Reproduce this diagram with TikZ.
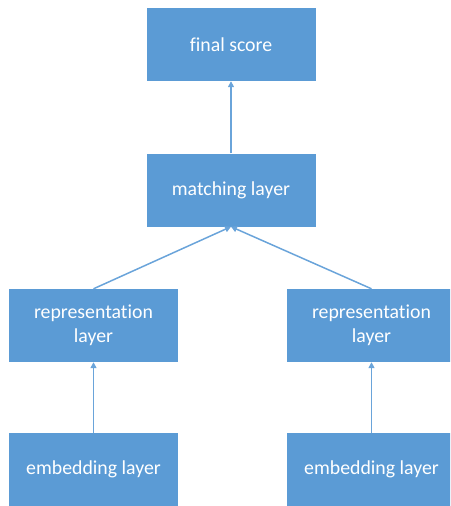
\documentclass[tikz,border=0pt]{standalone}
\usepackage{fontspec}
\setmainfont{Carlito}[Ligatures={NoCommon}]
\usetikzlibrary{arrows.meta}
\definecolor{boxblue}{HTML}{5B9BD5}
\definecolor{linkblue}{HTML}{6AA4DA}
\begin{document}
\begin{tikzpicture}[x=1pt,y=-1pt,
  layerbox/.style={fill=boxblue, draw=none, minimum width=169pt, minimum height=73pt,
    inner sep=0pt, text=white, align=center, font=\fontsize{19.8}{24}\selectfont},
  link/.style={draw=linkblue, line width=1.5pt, -{Triangle[length=6pt,width=6pt]}}]
\useasboundingbox (0,0) rectangle (450,506);
\clip (0,0) rectangle (450,506);
\node[layerbox] (final) at (231,44.5) {final score};
\node[layerbox] (match) at (231,190) {matching layer};
\node[layerbox] (repL) at (93.5,325.5) {representation\\layer};
\node[layerbox] (repR) at (371.5,325.5) {representation\\layer};
\node[layerbox] (embL) at (93.5,469.5) {embedding layer};
\node[layerbox] (embR) at (371.5,469.5) {embedding layer};
\draw[link] (embL) -- (repL);
\draw[link] (embR) -- (repR);
\draw[link] (repL.north) -- (match.south);
\draw[link] (repR.north) -- (match.south);
\draw[link] (match) -- (final);
\end{tikzpicture}
\end{document}
